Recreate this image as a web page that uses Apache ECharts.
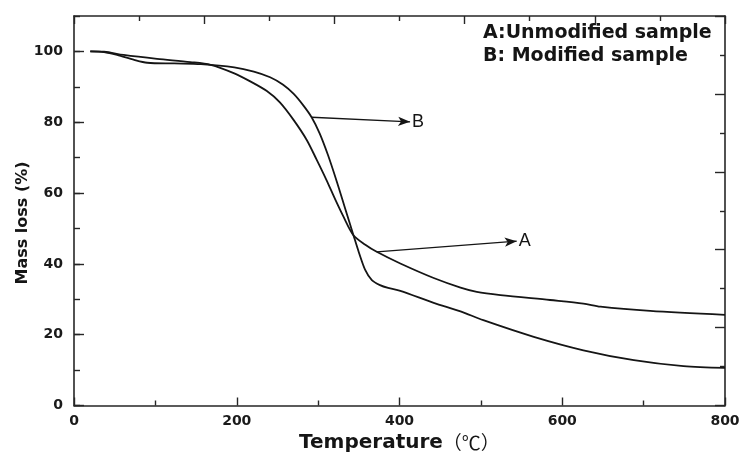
<!DOCTYPE html>
<html>
<head>
<meta charset="utf-8">
<script src="https://cdn.jsdelivr.net/npm/echarts@6/dist/echarts.min.js"></script>
<style>
html,body{margin:0;padding:0;background:#fff;}
#c{width:740px;height:452px;}
</style>
</head>
<body>
<div id="c"></div>
<script>
// Curve A: unmodified sample
const tempA = [20, 37, 61, 102, 143, 168, 197, 216, 237, 253, 270, 286, 298, 310, 321, 331, 343.4, 358, 372, 401, 442, 475, 495, 524, 585, 626, 647, 708, 800];
const massA = [100, 99.9, 99.0, 97.9, 97.0, 96.2, 93.8, 91.6, 88.8, 85.6, 80.6, 75.0, 69.5, 63.8, 58.2, 53.4, 48.1, 45.4, 43.4, 40.1, 36.0, 33.3, 32.1, 31.2, 29.8, 28.8, 27.9, 26.7, 25.6];
// Curve B: modified sample
const tempB = [20, 37, 53, 74, 90, 123, 156, 197, 221, 241, 257, 270, 282, 292, 302, 312, 323, 333, 343.4, 350, 358, 366, 376, 386, 401, 442, 475, 503, 565, 626, 688, 749, 800];
const massB = [100, 99.8, 99.0, 97.6, 96.8, 96.6, 96.4, 95.5, 94.3, 92.7, 90.6, 88.0, 84.7, 81.4, 76.8, 70.8, 63.2, 55.8, 48.1, 43.3, 38.2, 35.4, 34.0, 33.2, 32.4, 29.0, 26.6, 24.1, 19.4, 15.6, 12.8, 11.1, 10.6];
// Annotation arrows [start, end] in data units
const arrowA = [[372, 43.4], [544, 46.4]];
const arrowB = [[292, 81.4], [413, 80.1]];
const xTicks = [0, 200, 400, 600, 800];
const yTicks = [0, 20, 40, 60, 80, 100];
const legendLines = ['A:Unmodified sample', 'B: Modified sample'];

const zip = (xs, ys) => xs.map((x, i) => [x, ys[i]]);
const ink = '#151515';
const frame = '#262626';
const tickFont = {fontFamily: 'DejaVu Sans', fontWeight: 'bold', fontSize: 14, color: '#1a1a1a'};

function arrowLine(pts, label) {
  return {
    silent: true,
    animation: false,
    symbol: ['none', 'arrow'],
    symbolSize: [7, 12],
    lineStyle: {color: ink, width: 1.3, type: 'solid'},
    label: {show: true, position: 'end', formatter: label, distance: 2,
      fontFamily: 'Liberation Sans', fontSize: 18, color: ink},
    data: [[{coord: pts[0]}, {coord: pts[1]}]]
  };
}
const lineAx = {show: true, onZero: false, lineStyle: {color: frame, width: 1.6}};

const chart = echarts.init(document.getElementById('c'), null, {renderer: 'canvas'});
chart.setOption({
  animation: false,
  backgroundColor: '#fff',
  grid: {left: 74, right: 15, top: 16, bottom: 46.5, outerBoundsMode: 'none'},
  xAxis: [
    {type: 'value', position: 'bottom', min: xTicks[0], max: xTicks[xTicks.length - 1], interval: 200,
      axisLine: lineAx,
      axisTick: {show: true, inside: true, length: 8, lineStyle: {color: frame, width: 1.4}},
      minorTick: {show: true, splitNumber: 2, length: 5, lineStyle: {color: frame, width: 1.4}},
      splitLine: {show: false}, minorSplitLine: {show: false},
      axisLabel: Object.assign({margin: 9}, tickFont)},
    {type: 'value', position: 'top', min: 0, max: 800, interval: 160,
      axisLine: lineAx,
      axisTick: {show: true, inside: true, length: 8, lineStyle: {color: frame, width: 1.4}},
      minorTick: {show: true, splitNumber: 2, length: 5, lineStyle: {color: frame, width: 1.4}},
      splitLine: {show: false}, axisLabel: {show: false}}
  ],
  yAxis: [
    {type: 'value', position: 'left', min: yTicks[0], max: 110, interval: 20,
      axisLine: lineAx,
      axisTick: {show: true, inside: true, length: 10, lineStyle: {color: frame, width: 1.4}},
      splitLine: {show: false},
      axisLabel: Object.assign({margin: 11, showMaxLabel: false,
        formatter: v => (yTicks.indexOf(v) >= 0 ? String(v) : '')}, tickFont)},
    {type: 'value', position: 'left', min: 0, max: 110, interval: 10,
      axisLine: {show: false, onZero: false},
      axisTick: {show: true, inside: true, length: 6, lineStyle: {color: frame, width: 1.4}},
      splitLine: {show: false}, axisLabel: {show: false}},
    {type: 'value', position: 'right', min: 0, max: 110, interval: 22,
      axisLine: lineAx,
      axisTick: {show: true, inside: true, length: 10, lineStyle: {color: frame, width: 1.4}},
      minorTick: {show: true, splitNumber: 2, length: 5, lineStyle: {color: frame, width: 1.4}},
      splitLine: {show: false}, axisLabel: {show: false}}
  ],
  series: [
    {name: 'A', type: 'line', xAxisIndex: 0, yAxisIndex: 0, data: zip(tempA, massA),
      showSymbol: false, smooth: 0.3,
      lineStyle: {color: ink, width: 1.8}, markLine: arrowLine(arrowA, 'A')},
    {name: 'B', type: 'line', xAxisIndex: 0, yAxisIndex: 0, data: zip(tempB, massB),
      showSymbol: false, smooth: 0.3,
      lineStyle: {color: ink, width: 1.8}, markLine: arrowLine(arrowB, 'B')}
  ],
  graphic: [
    {type: 'text', left: 483, top: 24, style: {text: legendLines[0], font: 'bold 19px "DejaVu Sans"', fill: ink}},
    {type: 'text', left: 483, top: 47, style: {text: legendLines[1], font: 'bold 19px "DejaVu Sans"', fill: ink}},
    {type: 'text', x: 23, y: 223, rotation: Math.PI / 2,
      style: {text: 'Mass loss (%)', font: 'bold 16px "DejaVu Sans"', fill: ink, align: 'center', verticalAlign: 'middle'}},
    {type: 'text', x: 299, y: 443,
      style: {text: '{b|Temperature}{c|（℃）}', fill: ink, align: 'left', verticalAlign: 'middle',
        rich: {b: {font: 'bold 20px "DejaVu Sans"', fill: ink}, c: {font: '19px "Noto Sans CJK SC"', fill: ink}}}}
  ]
});
</script>
</body>
</html>
